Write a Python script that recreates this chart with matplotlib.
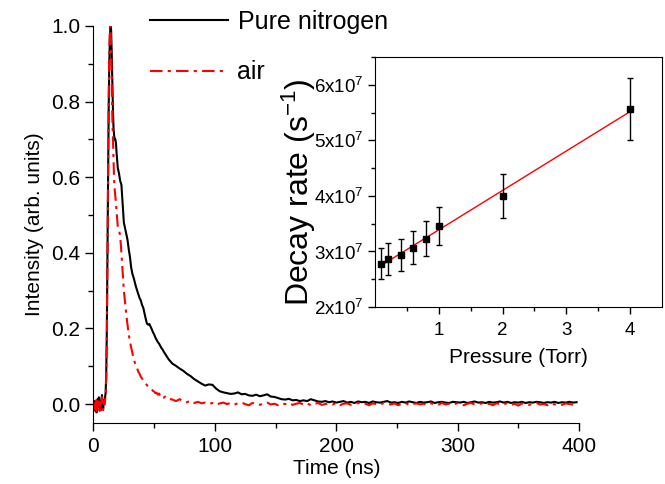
import numpy as np
import matplotlib
matplotlib.use("Agg")
import matplotlib.pyplot as plt
from matplotlib.ticker import MultipleLocator, FixedLocator

plt.rcParams['font.family'] = ['Liberation Sans', 'DejaVu Sans']
plt.rcParams['mathtext.default'] = 'regular'

# time grid (ns): fine around the peak, coarser in the tail
t_peak = np.arange(0, 20.5, 0.5)
t_mid = np.arange(21, 61, 1)
t_tail = np.arange(62, 399, 3)

# pure nitrogen trace
n2_peak = [0.000, -0.012, 0.008, -0.018, 0.004, -0.022, 0.002, 0.014, -0.006, 0.018,
           -0.010, 0.006, -0.016, 0.010, 0.024, -0.002, -0.012, 0.010, 0.004, 0.016,
           0.030, 0.080, 0.200, 0.400, 0.600, 0.780, 0.900, 0.970, 1.000, 0.990,
           0.930, 0.850, 0.780, 0.730, 0.710, 0.700, 0.700, 0.690, 0.665, 0.645,
           0.625]
n2_mid = [0.610, 0.590, 0.580, 0.530, 0.480, 0.465, 0.450, 0.435, 0.410, 0.390,
          0.362, 0.345, 0.335, 0.322, 0.310, 0.300, 0.290, 0.280, 0.274, 0.262,
          0.255, 0.240, 0.226, 0.213, 0.210, 0.212, 0.205, 0.198, 0.190, 0.184,
          0.176, 0.170, 0.164, 0.160, 0.154, 0.148, 0.144, 0.138, 0.133, 0.128]
n2_tail = [0.118, 0.107, 0.101, 0.094, 0.088, 0.080, 0.074, 0.066, 0.060, 0.054,
           0.049, 0.052, 0.051, 0.041, 0.034, 0.031, 0.029, 0.027, 0.028, 0.031,
           0.026, 0.027, 0.023, 0.022, 0.025, 0.021, 0.023, 0.026, 0.020, 0.019,
           0.016, 0.013, 0.012, 0.014, 0.010, 0.011, 0.008, 0.010, 0.008, 0.013,
           0.010, 0.007, 0.006, 0.008, 0.005, 0.007, 0.004, 0.006, 0.008, 0.004,
           0.006, 0.003, 0.007, 0.005, 0.006, 0.003, 0.007, 0.005, 0.004, 0.006,
           0.008, 0.004, 0.005, 0.003, 0.006, 0.004, 0.007, 0.005, 0.003, 0.006,
           0.004, 0.005, 0.007, 0.003, 0.005, 0.006, 0.004, 0.003, 0.006, 0.005,
           0.004, 0.006, 0.003, 0.005, 0.007, 0.004, 0.005, 0.003, 0.006, 0.004,
           0.005, 0.007, 0.004, 0.006, 0.003, 0.005, 0.004, 0.006, 0.003, 0.005,
           0.004, 0.006, 0.005, 0.003, 0.005, 0.004, 0.006, 0.003, 0.005, 0.004,
           0.006, 0.004, 0.005]

# air trace
air_peak = [0.005, -0.015, 0.004, -0.020, 0.010, -0.024, -0.004, 0.008, -0.012, 0.012,
            -0.018, 0.002, -0.010, 0.006, 0.018, -0.008, -0.016, 0.006, -0.002, 0.010,
            0.020, 0.070, 0.190, 0.400, 0.620, 0.800, 0.930, 0.990, 1.000, 0.950,
            0.850, 0.760, 0.700, 0.640, 0.590, 0.565, 0.550, 0.530, 0.510, 0.490,
            0.470]
air_mid = [0.460, 0.445, 0.400, 0.350, 0.300, 0.268, 0.238, 0.210, 0.186, 0.165,
           0.150, 0.135, 0.121, 0.110, 0.100, 0.094, 0.085, 0.080, 0.072, 0.068,
           0.062, 0.058, 0.055, 0.050, 0.047, 0.044, 0.040, 0.038, 0.035, 0.033,
           0.029, 0.030, 0.025, 0.028, 0.021, 0.024, 0.019, 0.017, 0.020, 0.015]
air_tail = [0.014, 0.012, 0.008, 0.013, 0.007, 0.005, 0.009, 0.003, 0.006, 0.002,
            0.004, 0.000, 0.003, -0.002, 0.002, 0.004, 0.000, 0.003, -0.001, 0.002,
            0.004, 0.000, -0.003, 0.003, 0.001, -0.002, 0.002, 0.004, -0.001, 0.001,
            -0.003, 0.002, 0.000, 0.003, -0.002, 0.001, 0.003, -0.001, 0.002, -0.003,
            0.001, 0.003, -0.002, 0.000, 0.002, -0.001, 0.003, -0.003, 0.001, 0.002,
            -0.002, 0.000, 0.003, -0.001, 0.001, -0.003, 0.002, 0.000, -0.002, 0.003,
            0.000, -0.001, 0.002, -0.003, 0.001, 0.003, -0.002, 0.000, 0.002, -0.001,
            0.001, -0.003, 0.002, 0.000, -0.002, 0.003, -0.001, 0.001, -0.002, 0.002,
            0.000, -0.003, 0.001, 0.003, -0.001, 0.000, 0.002, -0.002, 0.001, -0.003,
            0.002, 0.000, -0.001, 0.003, -0.002, 0.001, -0.004, 0.002, 0.000, -0.002,
            0.001, 0.003, -0.001, 0.000, -0.003, 0.002, -0.001, 0.001, -0.002, 0.002,
            0.000, -0.001, 0.001]

# inset: decay rate vs pressure
pressure = [0.1, 0.2, 0.4, 0.6, 0.8, 1.0, 2.0, 4.0]
rate = [2.78e7, 2.86e7, 2.94e7, 3.07e7, 3.23e7, 3.46e7, 4.00e7, 5.56e7]
rate_err = [0.28e7, 0.29e7, 0.29e7, 0.30e7, 0.32e7, 0.34e7, 0.40e7, 0.56e7]

t = np.concatenate([t_peak, t_mid, t_tail])
n2 = np.concatenate([n2_peak, n2_mid, n2_tail])
air = np.concatenate([air_peak, air_mid, air_tail])

fig = plt.figure(figsize=(6.65, 4.84), dpi=100)
ax = fig.add_axes([0.1406, 0.126, 0.7301, 0.8204])

ax.plot(t, n2, color='black', lw=1.5, label='Pure nitrogen')
ax.plot(t, air, color='red', lw=1.5, dashes=(6, 2.5, 1.5, 2.5), label='air')

ax.set_xlim(0, 400)
ax.set_ylim(-0.05, 1.0)
ax.xaxis.set_major_locator(MultipleLocator(100))
ax.xaxis.set_minor_locator(MultipleLocator(50))
ax.yaxis.set_major_locator(MultipleLocator(0.2))
ax.yaxis.set_minor_locator(MultipleLocator(0.1))
ax.yaxis.set_major_formatter(plt.FormatStrFormatter('%.1f'))
ax.spines['top'].set_visible(False)
ax.spines['right'].set_visible(False)
ax.tick_params(which='major', direction='out', length=6, width=1, labelsize=15)
ax.tick_params(axis='x', which='major', pad=4)
ax.tick_params(which='minor', direction='out', length=3.5, width=1)
ax.set_xlabel('Time (ns)', fontsize=15, labelpad=2)
ax.set_ylabel('Intensity (arb. units)', fontsize=15, labelpad=5)

fig.legend(loc='upper left', bbox_to_anchor=(150 / 665, 1 - 10 / 484), frameon=False,
           fontsize=18, handlelength=3.1, handletextpad=0.4, labelspacing=1.05,
           borderpad=0, borderaxespad=0)

# inset
ins = fig.add_axes([0.564, 0.3657, 0.4315, 0.5163])
fit = np.polyfit(pressure, rate, 1)
p_line = np.array([pressure[0], pressure[-1]])
ins.plot(p_line, np.polyval(fit, p_line), color='red', lw=1)
ins.errorbar(pressure, rate, yerr=rate_err, fmt='s', color='black', ms=4,
             ecolor='black', elinewidth=1, capsize=2.5, capthick=1)
ins.set_xlim(0, 4.5)
ins.set_ylim(2e7, 6.5e7)
ins.xaxis.set_major_locator(FixedLocator([1, 2, 3, 4]))
ins.xaxis.set_minor_locator(FixedLocator([0.5, 1.5, 2.5, 3.5]))
ins.yaxis.set_major_locator(MultipleLocator(1e7))
ins.yaxis.set_minor_locator(MultipleLocator(0.5e7))
ins.yaxis.set_major_formatter(plt.FuncFormatter(lambda v, p: '%dx10$^{7}$' % round(v / 1e7)))
ins.tick_params(which='major', direction='out', length=5, width=1, labelsize=13.5)
ins.tick_params(axis='x', which='major', pad=6)
ins.tick_params(which='minor', direction='out', length=3, width=1)
ins.set_xlabel('Pressure (Torr)', fontsize=15, labelpad=6)
ins.set_ylabel('Decay rate (s$^{-1}$)', fontsize=23)
ins.yaxis.set_label_coords(-0.2, 0.46)

fig.savefig('out.png', dpi=100)
